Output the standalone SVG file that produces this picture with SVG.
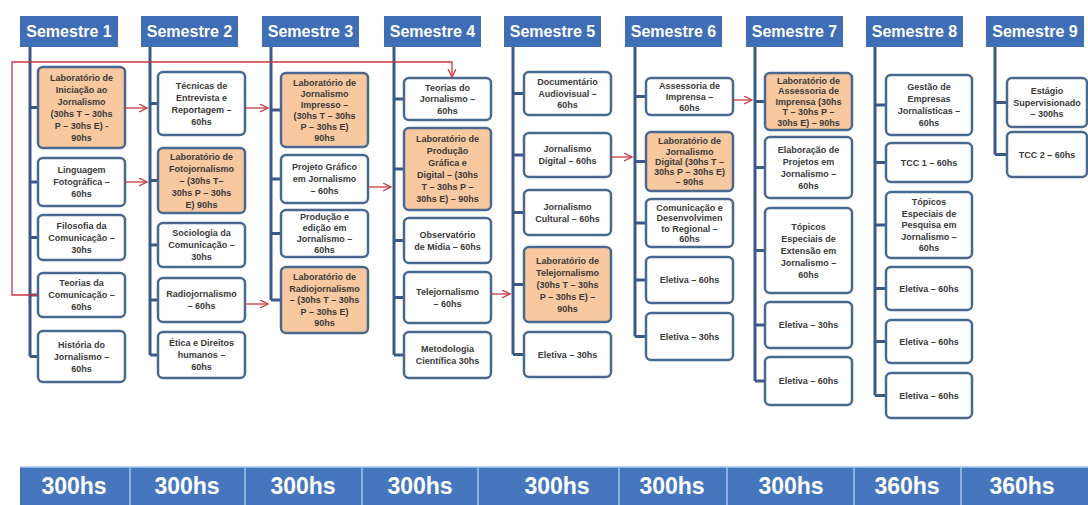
<svg xmlns="http://www.w3.org/2000/svg" width="1088" height="505" viewBox="0 0 1088 505">
<style>
.bg{fill:#ffffff}
.hdr{fill:#3F6EB6}
.ht{font-family:"Liberation Sans",Arial,sans-serif;font-size:16px;font-weight:bold;fill:#ffffff;text-anchor:middle}
.box{fill:#ffffff;stroke:#4A6990;stroke-width:2.5}
.or{fill:#F8C8A0}
.t{font-family:"Liberation Sans",Arial,sans-serif;font-size:9px;font-weight:bold;fill:#3a3a3a;text-anchor:middle}
.spine{stroke:#3B5987;stroke-width:3;fill:none}
.arr{stroke:#C9373F;stroke-width:1.3;fill:none;marker-end:url(#ah)}
.bar{fill:#4677BE}
.div{stroke:#A8C4EA;stroke-width:1.5}
.bt{font-family:"Liberation Sans",Arial,sans-serif;font-size:23px;font-weight:bold;fill:#ffffff;text-anchor:middle}
</style>
<defs>
<marker id="ah" markerUnits="userSpaceOnUse" markerWidth="10" markerHeight="10" refX="8" refY="4" orient="auto">
<path d="M0,0 L8,4 L0,8" fill="none" stroke="#C9373F" stroke-width="1.3"/>
</marker>
</defs>
<rect class="bg" x="0" y="0" width="1088" height="505"/>

<g id="spines">
<path class="spine" d="M30,47 V356.5 M30,107.5 H38 M30,182 H38 M30,237.5 H38 M30,295 H38 M30,356.5 H38"/>
<path class="spine" d="M150,47 V355 M150,103.5 H158 M150,180.5 H158 M150,245 H158 M150,300 H158 M150,355 H158"/>
<path class="spine" d="M271,47 V300 M271,110 H281 M271,179 H281 M271,233.5 H281 M271,300 H281"/>
<path class="spine" d="M394,47 V355 M394,99 H404 M394,169 H404 M394,240.5 H404 M394,297.5 H404 M394,355 H404"/>
<path class="spine" d="M513,47 V354.5 M513,93.5 H524 M513,155 H524 M513,212.5 H524 M513,284.5 H524 M513,354.5 H524"/>
<path class="spine" d="M635,47 V336.5 M635,96.5 H646 M635,161.5 H646 M635,223 H646 M635,280 H646 M635,336.5 H646"/>
<path class="spine" d="M755,47 V381 M755,101.5 H765 M755,167.5 H765 M755,250.5 H765 M755,325 H765 M755,381 H765"/>
<path class="spine" d="M875,47 V395.5 M875,105 H886 M875,162.5 H886 M875,225 H886 M875,288.5 H886 M875,341.5 H886 M875,395.5 H886"/>
<path class="spine" d="M995,47 V154.5 M995,102.5 H1007 M995,154.5 H1007"/>
</g>

<g id="headers">
<g id="h1"><rect class="hdr" x="20" y="16" width="98" height="31"/><text class="ht" x="69" y="37">Semestre 1</text></g>
<g id="h2"><rect class="hdr" x="141" y="16" width="97" height="31"/><text class="ht" x="189.5" y="37">Semestre 2</text></g>
<g id="h3"><rect class="hdr" x="262" y="16" width="97" height="31"/><text class="ht" x="310.5" y="37">Semestre 3</text></g>
<g id="h4"><rect class="hdr" x="384" y="16" width="97" height="31"/><text class="ht" x="432.5" y="37">Semestre 4</text></g>
<g id="h5"><rect class="hdr" x="504" y="16" width="97" height="31"/><text class="ht" x="552.5" y="37">Semestre 5</text></g>
<g id="h6"><rect class="hdr" x="625" y="16" width="97" height="31"/><text class="ht" x="673.5" y="37">Semestre 6</text></g>
<g id="h7"><rect class="hdr" x="746" y="16" width="97" height="31"/><text class="ht" x="794.5" y="37">Semestre 7</text></g>
<g id="h8"><rect class="hdr" x="866" y="16" width="97" height="31"/><text class="ht" x="914.5" y="37">Semestre 8</text></g>
<g id="h9"><rect class="hdr" x="986" y="16" width="98" height="31"/><text class="ht" x="1035" y="37">Semestre 9</text></g>
</g>

<!-- Semestre 1 -->
<g id="s1b1"><rect class="box or" x="38" y="67" width="87" height="81" rx="5"/>
<text class="t"><tspan x="81.5" y="80.7">Laboratório de</tspan><tspan x="81.5" y="92.7">Iniciação ao</tspan><tspan x="81.5" y="104.7">Jornalismo</tspan><tspan x="81.5" y="116.7">(30hs T – 30hs</tspan><tspan x="81.5" y="128.7">P – 30hs E) -</tspan><tspan x="81.5" y="140.7">90hs</tspan></text></g>
<g id="s1b2"><rect class="box" x="38" y="158" width="87" height="48" rx="5"/>
<text class="t"><tspan x="81.5" y="173.2">Linguagem</tspan><tspan x="81.5" y="185.2">Fotográfica –</tspan><tspan x="81.5" y="197.2">60hs</tspan></text></g>
<g id="s1b3"><rect class="box" x="38" y="215" width="87" height="45" rx="5"/>
<text class="t"><tspan x="81.5" y="228.7">Filosofia da</tspan><tspan x="81.5" y="240.7">Comunicação –</tspan><tspan x="81.5" y="252.7">30hs</tspan></text></g>
<g id="s1b4"><rect class="box" x="38" y="273" width="87" height="44" rx="5"/>
<text class="t"><tspan x="81.5" y="286.2">Teorias da</tspan><tspan x="81.5" y="298.2">Comunicação –</tspan><tspan x="81.5" y="310.2">60hs</tspan></text></g>
<g id="s1b5"><rect class="box" x="38" y="331" width="87" height="51" rx="5"/>
<text class="t"><tspan x="81.5" y="347.7">História do</tspan><tspan x="81.5" y="359.7">Jornalismo –</tspan><tspan x="81.5" y="371.7">60hs</tspan></text></g>

<!-- Semestre 2 -->
<g id="s2b1"><rect class="box" x="158" y="72" width="87" height="63" rx="5"/>
<text class="t"><tspan x="201.5" y="88.7">Técnicas de</tspan><tspan x="201.5" y="100.7">Entrevista e</tspan><tspan x="201.5" y="112.7">Reportagem –</tspan><tspan x="201.5" y="124.7">60hs</tspan></text></g>
<g id="s2b2"><rect class="box or" x="158" y="148" width="87" height="65" rx="5"/>
<text class="t"><tspan x="201.5" y="159.7">Laboratório de</tspan><tspan x="201.5" y="171.7">Fotojornalismo</tspan><tspan x="201.5" y="183.7">– (30hs T–</tspan><tspan x="201.5" y="195.7">30hs P – 30hs</tspan><tspan x="201.5" y="207.7">E) 90hs</tspan></text></g>
<g id="s2b3"><rect class="box" x="158" y="223" width="87" height="44" rx="5"/>
<text class="t"><tspan x="201.5" y="236.2">Sociologia da</tspan><tspan x="201.5" y="248.2">Comunicação –</tspan><tspan x="201.5" y="260.2">30hs</tspan></text></g>
<g id="s2b4"><rect class="box" x="158" y="278" width="87" height="44" rx="5"/>
<text class="t"><tspan x="201.5" y="297.2">Radiojornalismo</tspan><tspan x="201.5" y="309.2">– 60hs</tspan></text></g>
<g id="s2b5"><rect class="box" x="158" y="332" width="87" height="46" rx="5"/>
<text class="t"><tspan x="201.5" y="346.2">Ética e Direitos</tspan><tspan x="201.5" y="358.2">humanos –</tspan><tspan x="201.5" y="370.2">60hs</tspan></text></g>

<!-- Semestre 3 -->
<g id="s3b1"><rect class="box or" x="281" y="73" width="87" height="74" rx="5"/>
<text class="t"><tspan x="324.5" y="85.7">Laboratório de</tspan><tspan x="324.5" y="96.7">Jornalismo</tspan><tspan x="324.5" y="107.7">Impresso –</tspan><tspan x="324.5" y="118.7">(30hs T – 30hs</tspan><tspan x="324.5" y="129.7">P – 30hs E)</tspan><tspan x="324.5" y="140.7">90hs</tspan></text></g>
<g id="s3b2"><rect class="box" x="281" y="155" width="87" height="48" rx="5"/>
<text class="t"><tspan x="324.5" y="170.2">Projeto Gráfico</tspan><tspan x="324.5" y="182.2">em Jornalismo</tspan><tspan x="324.5" y="194.2">– 60hs</tspan></text></g>
<g id="s3b3"><rect class="box" x="281" y="210" width="87" height="47" rx="5"/>
<text class="t"><tspan x="324.5" y="220.2">Produção e</tspan><tspan x="324.5" y="231.2">edição em</tspan><tspan x="324.5" y="242.2">Jornalismo –</tspan><tspan x="324.5" y="253.2">60hs</tspan></text></g>
<g id="s3b4"><rect class="box or" x="281" y="267" width="87" height="66" rx="5"/>
<text class="t"><tspan x="324.5" y="280.2">Laboratório de</tspan><tspan x="324.5" y="291.7">Radiojornalismo</tspan><tspan x="324.5" y="303.2">– (30hs T – 30hs</tspan><tspan x="324.5" y="314.7">P – 30hs E)</tspan><tspan x="324.5" y="326.2">90hs</tspan></text></g>

<!-- Semestre 4 -->
<g id="s4b1"><rect class="box" x="404" y="78" width="87" height="42" rx="5"/>
<text class="t"><tspan x="447.5" y="90.7">Teorias do</tspan><tspan x="447.5" y="102.2">Jornalismo –</tspan><tspan x="447.5" y="113.7">60hs</tspan></text></g>
<g id="s4b2"><rect class="box or" x="404" y="128" width="87" height="82" rx="5"/>
<text class="t"><tspan x="447.5" y="142.2">Laboratório de</tspan><tspan x="447.5" y="154.2">Produção</tspan><tspan x="447.5" y="166.2">Gráfica e</tspan><tspan x="447.5" y="178.2">Digital – (30hs</tspan><tspan x="447.5" y="190.2">T – 30hs P –</tspan><tspan x="447.5" y="202.2">30hs E) – 90hs</tspan></text></g>
<g id="s4b3"><rect class="box" x="404" y="218" width="87" height="45" rx="5"/>
<text class="t"><tspan x="447.5" y="237.7">Observatório</tspan><tspan x="447.5" y="249.7">de Mídia – 60hs</tspan></text></g>
<g id="s4b4"><rect class="box" x="404" y="272" width="87" height="51" rx="5"/>
<text class="t"><tspan x="447.5" y="294.7">Telejornalismo</tspan><tspan x="447.5" y="306.7">– 60hs</tspan></text></g>
<g id="s4b5"><rect class="box" x="404" y="332" width="87" height="46" rx="5"/>
<text class="t"><tspan x="447.5" y="352.2">Metodologia</tspan><tspan x="447.5" y="364.2">Científica 30hs</tspan></text></g>

<!-- Semestre 5 -->
<g id="s5b1"><rect class="box" x="524" y="72" width="87" height="43" rx="5"/>
<text class="t"><tspan x="567.5" y="85.2">Documentário</tspan><tspan x="567.5" y="96.7">Audiovisual –</tspan><tspan x="567.5" y="108.2">60hs</tspan></text></g>
<g id="s5b2"><rect class="box" x="524" y="133" width="87" height="44" rx="5"/>
<text class="t"><tspan x="567.5" y="152.2">Jornalismo</tspan><tspan x="567.5" y="164.2">Digital – 60hs</tspan></text></g>
<g id="s5b3"><rect class="box" x="524" y="190" width="87" height="45" rx="5"/>
<text class="t"><tspan x="567.5" y="209.7">Jornalismo</tspan><tspan x="567.5" y="221.7">Cultural – 60hs</tspan></text></g>
<g id="s5b4"><rect class="box or" x="524" y="247" width="87" height="75" rx="5"/>
<text class="t"><tspan x="567.5" y="263.7">Laboratório de</tspan><tspan x="567.5" y="275.7">Telejornalismo</tspan><tspan x="567.5" y="287.7">(30hs T – 30hs</tspan><tspan x="567.5" y="299.7">P – 30hs E) –</tspan><tspan x="567.5" y="311.7">90hs</tspan></text></g>
<g id="s5b5"><rect class="box" x="524" y="332" width="87" height="45" rx="5"/>
<text class="t"><tspan x="567.5" y="357.7">Eletiva – 30hs</tspan></text></g>

<!-- Semestre 6 -->
<g id="s6b1"><rect class="box" x="646" y="78" width="87" height="37" rx="5"/>
<text class="t"><tspan x="689.5" y="88.7">Assessoria de</tspan><tspan x="689.5" y="99.7">Imprensa –</tspan><tspan x="689.5" y="110.7">60hs</tspan></text></g>
<g id="s6b2"><rect class="box or" x="646" y="132" width="87" height="59" rx="5"/>
<text class="t"><tspan x="689.5" y="144.3">Laboratório de</tspan><tspan x="689.5" y="154.5">Jornalismo</tspan><tspan x="689.5" y="164.7">Digital (30hs T –</tspan><tspan x="689.5" y="174.9">30hs P – 30hs E)</tspan><tspan x="689.5" y="185.1">– 90hs</tspan></text></g>
<g id="s6b3"><rect class="box" x="646" y="199" width="87" height="48" rx="5"/>
<text class="t"><tspan x="689.5" y="210.5">Comunicação e</tspan><tspan x="689.5" y="221">Desenvolvimen</tspan><tspan x="689.5" y="231.5">to Regional –</tspan><tspan x="689.5" y="242">60hs</tspan></text></g>
<g id="s6b4"><rect class="box" x="646" y="257" width="87" height="46" rx="5"/>
<text class="t"><tspan x="689.5" y="283.2">Eletiva – 60hs</tspan></text></g>
<g id="s6b5"><rect class="box" x="646" y="313" width="87" height="47" rx="5"/>
<text class="t"><tspan x="689.5" y="339.7">Eletiva – 30hs</tspan></text></g>

<!-- Semestre 7 -->
<g id="s7b1"><rect class="box or" x="765" y="73" width="87" height="57" rx="5"/>
<text class="t"><tspan x="808.5" y="83.7">Laboratório de</tspan><tspan x="808.5" y="94.2">Assessoria de</tspan><tspan x="808.5" y="104.7">Imprensa (30hs</tspan><tspan x="808.5" y="115.2">T – 30hs P –</tspan><tspan x="808.5" y="125.7">30hs E) – 90hs</tspan></text></g>
<g id="s7b2"><rect class="box" x="765" y="137" width="87" height="61" rx="5"/>
<text class="t"><tspan x="808.5" y="152.7">Elaboração de</tspan><tspan x="808.5" y="164.7">Projetos em</tspan><tspan x="808.5" y="176.7">Jornalismo –</tspan><tspan x="808.5" y="188.7">60hs</tspan></text></g>
<g id="s7b3"><rect class="box" x="765" y="208" width="87" height="85" rx="5"/>
<text class="t"><tspan x="808.5" y="229.7">Tópicos</tspan><tspan x="808.5" y="241.7">Especiais de</tspan><tspan x="808.5" y="253.7">Extensão em</tspan><tspan x="808.5" y="265.7">Jornalismo –</tspan><tspan x="808.5" y="277.7">60hs</tspan></text></g>
<g id="s7b4"><rect class="box" x="765" y="302" width="87" height="46" rx="5"/>
<text class="t"><tspan x="808.5" y="328.2">Eletiva – 30hs</tspan></text></g>
<g id="s7b5"><rect class="box" x="765" y="357" width="87" height="48" rx="5"/>
<text class="t"><tspan x="808.5" y="384.2">Eletiva – 60hs</tspan></text></g>

<!-- Semestre 8 -->
<g id="s8b1"><rect class="box" x="886" y="75" width="86" height="60" rx="5"/>
<text class="t"><tspan x="929" y="90.2">Gestão de</tspan><tspan x="929" y="102.2">Empresas</tspan><tspan x="929" y="114.2">Jornalísticas –</tspan><tspan x="929" y="126.2">60hs</tspan></text></g>
<g id="s8b2"><rect class="box" x="886" y="143" width="86" height="39" rx="5"/>
<text class="t"><tspan x="929" y="165.7">TCC 1 – 60hs</tspan></text></g>
<g id="s8b3"><rect class="box" x="886" y="192" width="86" height="66" rx="5"/>
<text class="t"><tspan x="929" y="205.2">Tópicos</tspan><tspan x="929" y="216.7">Especiais de</tspan><tspan x="929" y="228.2">Pesquisa em</tspan><tspan x="929" y="239.7">Jornalismo –</tspan><tspan x="929" y="251.2">60hs</tspan></text></g>
<g id="s8b4"><rect class="box" x="886" y="267" width="86" height="43" rx="5"/>
<text class="t"><tspan x="929" y="291.7">Eletiva – 60hs</tspan></text></g>
<g id="s8b5"><rect class="box" x="886" y="320" width="86" height="43" rx="5"/>
<text class="t"><tspan x="929" y="344.7">Eletiva – 60hs</tspan></text></g>
<g id="s8b6"><rect class="box" x="886" y="373" width="86" height="45" rx="5"/>
<text class="t"><tspan x="929" y="398.7">Eletiva – 60hs</tspan></text></g>

<!-- Semestre 9 -->
<g id="s9b1"><rect class="box" x="1007" y="78" width="80" height="49" rx="5"/>
<text class="t"><tspan x="1047" y="94.2">Estágio</tspan><tspan x="1047" y="105.7">Supervisionado</tspan><tspan x="1047" y="117.2">– 300hs</tspan></text></g>
<g id="s9b2"><rect class="box" x="1007" y="132" width="80" height="45" rx="5"/>
<text class="t"><tspan x="1047" y="157.7">TCC 2 – 60hs</tspan></text></g>

<g id="connectors">
<path class="arr" d="M125,108 H147"/>
<path class="arr" d="M125,182 H147"/>
<path class="arr" d="M245,108 H268"/>
<path class="arr" d="M245,304 H268"/>
<path class="arr" d="M368,187 H391"/>
<path class="arr" d="M491,294 H510"/>
<path class="arr" d="M611,157 H632"/>
<path class="arr" d="M733,100 H752"/>
<path class="arr" d="M38,295 H12 V62 H452 V77"/>
</g>

<g id="totals">
<rect class="bar" x="20" y="467" width="1068" height="38"/>
<line class="div" x1="20" y1="467" x2="1088" y2="467"/>
<line class="div" x1="130" y1="467" x2="130" y2="505"/>
<line class="div" x1="245" y1="467" x2="245" y2="505"/>
<line class="div" x1="362" y1="467" x2="362" y2="505"/>
<line class="div" x1="478" y1="467" x2="478" y2="505"/>
<line class="div" x1="619" y1="467" x2="619" y2="505"/>
<line class="div" x1="727" y1="467" x2="727" y2="505"/>
<line class="div" x1="854" y1="467" x2="854" y2="505"/>
<line class="div" x1="961" y1="467" x2="961" y2="505"/>
<text class="bt" x="74" y="494">300hs</text>
<text class="bt" x="187" y="494">300hs</text>
<text class="bt" x="303" y="494">300hs</text>
<text class="bt" x="420" y="494">300hs</text>
<text class="bt" x="557" y="494">300hs</text>
<text class="bt" x="672" y="494">300hs</text>
<text class="bt" x="791" y="494">300hs</text>
<text class="bt" x="907" y="494">360hs</text>
<text class="bt" x="1022" y="494">360hs</text>
</g>
</svg>
